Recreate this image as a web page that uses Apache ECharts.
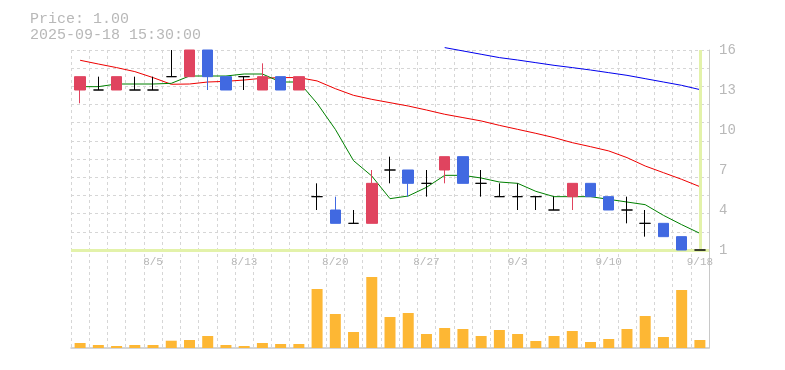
<!DOCTYPE html>
<html>
<head>
<meta charset="utf-8">
<script src="https://cdn.jsdelivr.net/npm/echarts@6/dist/echarts.min.js"></script>
<style>html,body{margin:0;padding:0;background:#fff}#c{width:785px;height:370px}</style>
</head>
<body>
<div id="c"></div>
<script>
const dates = ['7/30','7/31','8/1','8/4','8/5','8/6','8/7','8/8','8/12','8/13','8/14','8/15','8/18','8/19','8/20','8/21','8/22','8/25','8/26','8/27','8/28','8/29','9/1','9/2','9/3','9/4','9/5','9/8','9/9','9/10','9/11','9/12','9/16','9/17','9/18'];
const openP  = [13,13,13,13,13,14,14,16,14,14,13,14,13,5,4,3,3,7,7,6,7,8,6,5,5,5,4,5,6,5,4,3,3,2,1];
const closeP = [14,13,14,13,13,14,16,14,13,14,14,13,14,5,3,3,6,7,6,6,8,6,6,5,5,5,4,6,5,4,4,3,2,1,1];
const lowP   = [12,13,13,13,13,14,14,13,13,13,13,13,13,4,3,3,3,6,5,5,6,6,5,5,4,4,4,4,5,4,3,2,2,1,1];
const highP  = [14,14,14,14,14,16,16,16,14,14,15,14,14,6,5,4,7,8,7,7,8,8,7,6,6,5,5,6,6,5,5,4,3,2,1];
const ma5  = [13.25,13.25,13.45,13.45,13.45,13.5,14.05,14.05,14.05,14.2,14.2,13.6,13.6,12.0,10.05,7.7,6.55,4.85,5.05,5.7,6.6,6.6,6.4,6.1,6.0,5.4,5.0,5.0,5.0,4.8,4.6,4.4,3.6,2.9,2.25];
const ma25 = [15.23,14.95,14.68,14.38,13.93,13.43,13.45,13.6,13.65,13.75,13.88,13.93,13.93,13.68,13.1,12.6,12.3,12.05,11.8,11.5,11.18,10.93,10.68,10.35,10.05,9.75,9.43,9.05,8.75,8.43,7.93,7.3,6.8,6.3,5.75];
const ma75 = [null,null,null,null,null,null,null,null,null,null,null,null,null,null,null,null,null,null,null,null,16.18,15.93,15.68,15.43,15.25,15.05,14.85,14.68,14.5,14.3,14.1,13.85,13.6,13.35,13.03];
const volume = [50,30,20,30,30,73,80,120,30,20,50,40,40,590,340,160,710,310,350,140,200,190,120,180,140,70,120,170,60,90,190,320,110,580,80];
const priceTicks = [1,16,3];
const infoPrice = 'Price: 1.00';
const infoTime = '2025-09-18 15:30:00';

const candles = dates.map((d,i)=>[openP[i],closeP[i],lowP[i],highP[i]]);
const FONT = '"Liberation Mono", monospace';
const gridLine = {show:true, lineStyle:{color:'#d6d6d6', type:[3,3], width:1}};

const chart = echarts.init(document.getElementById('c'));
chart.setOption({
  animation:false,
  backgroundColor:'#fff',
  graphic:[
    {type:'text', left:30, top:12, style:{text:infoPrice, font:'15px '+FONT, fill:'#b8b8b8'}},
    {type:'text', left:30, top:28, style:{text:infoTime, font:'15px '+FONT, fill:'#b8b8b8'}}
  ],
  grid:[
    {left:71, right:76, top:50, height:200},
    {left:71, right:76, top:248, height:100}
  ],
  xAxis:[
    {type:'category', gridIndex:0, data:dates, boundaryGap:true,
     axisLine:{show:false}, axisTick:{show:false},
     axisLabel:{interval:(i)=> i%5===4, color:'#b8b8b8', fontFamily:'Liberation Mono', fontSize:11, margin:7},
     splitLine:Object.assign({interval:0}, gridLine)},
    {type:'category', gridIndex:1, data:dates, boundaryGap:true,
     axisLine:{show:true, lineStyle:{color:'#c8c8c8', width:1.5}}, axisTick:{show:false},
     axisLabel:{show:false},
     splitLine:Object.assign({interval:0}, gridLine)}
  ],
  yAxis:[
    {type:'value', gridIndex:0, position:'right', min:priceTicks[0], max:priceTicks[1], interval:priceTicks[2],
     axisLine:{show:true, lineStyle:{color:'#c8c8c8'}}, axisTick:{show:false},
     axisLabel:{color:'#b8b8b8', fontFamily:'Liberation Mono', fontSize:14, margin:10},
     splitLine:{show:false}},
    {type:'value', gridIndex:0, position:'left', min:0, max:11, interval:1,
     axisLine:{show:false}, axisTick:{show:false}, axisLabel:{show:false},
     splitLine:gridLine},
    {type:'value', gridIndex:1, position:'right', min:0, max:1000,
     axisLine:{show:true, lineStyle:{color:'#c8c8c8'}}, axisTick:{show:false}, axisLabel:{show:false},
     splitLine:{show:false}}
  ],
  series:[
    {type:'line', xAxisIndex:0, yAxisIndex:0, data:ma75, showSymbol:false, clip:false,
     lineStyle:{color:'#0000ee', width:1}, z:2},
    {type:'line', xAxisIndex:0, yAxisIndex:0, data:ma25, showSymbol:false,
     lineStyle:{color:'#ee0000', width:1}, z:2},
    {type:'line', xAxisIndex:0, yAxisIndex:0, data:ma5, showSymbol:false,
     lineStyle:{color:'#008000', width:1}, z:2},
    {type:'candlestick', xAxisIndex:0, yAxisIndex:0, data:candles, barWidth:11, z:5,
     itemStyle:{color:'#e0445f', color0:'#4169e1', borderColor:'#e0445f', borderColor0:'#4169e1', borderColorDoji:'#000000', borderWidth:1},
     markLine:{silent:true, symbol:['none','none'], label:{show:false},
       lineStyle:{color:'#e3f2aa', width:3, type:'solid'},
       data:[{yAxis:1},{xAxis:'9/18'}]}},
    {type:'bar', xAxisIndex:1, yAxisIndex:2, data:volume, barWidth:11,
     itemStyle:{color:'#fdb734'}}
  ]
});
</script>
</body>
</html>
